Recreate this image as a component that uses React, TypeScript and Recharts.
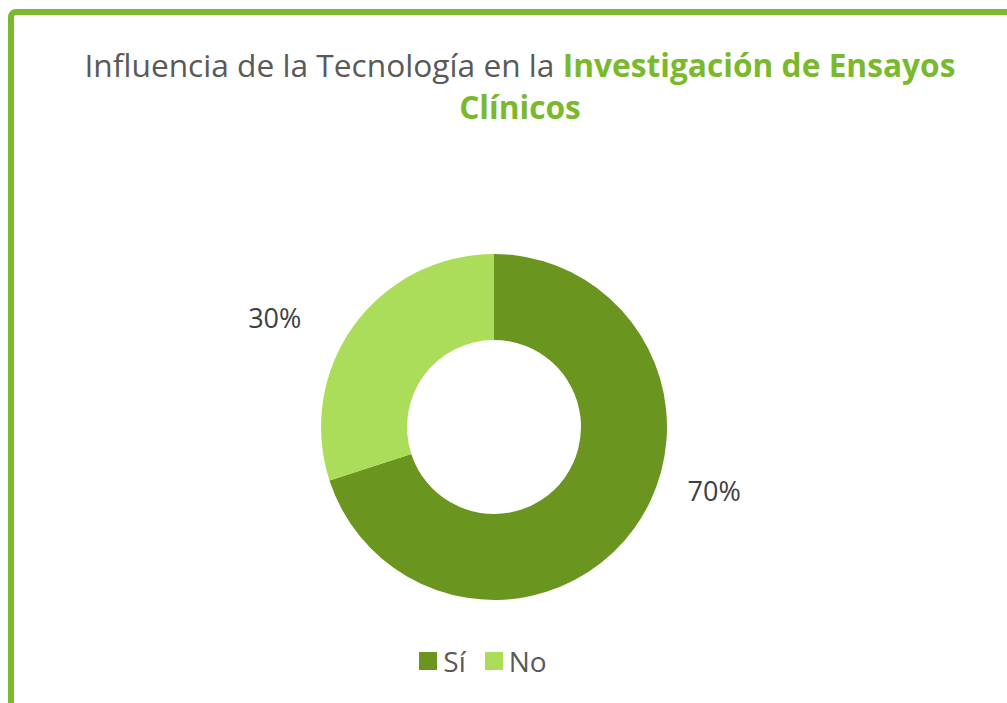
import { Cell, Legend, Pie, PieChart } from "recharts";

const categories = ["Sí", "No"];
const shares = [70, 30];
const sliceColors = ["#6a961f", "#acdd5a"];
// where each percentage sits, as angle (deg) and distance from the centre
const labelAngles = [-16, 153.5];
const labelRadii = [229, 245];

const data = categories.map((name, i) => ({ name, value: shares[i] }));

const FONT = "'Open Sans', sans-serif";

function renderLabel(props: any) {
  const { cx, cy, index, value } = props;
  const a = (labelAngles[index] * Math.PI) / 180;
  const x = cx + labelRadii[index] * Math.cos(a);
  const y = cy - labelRadii[index] * Math.sin(a);
  return (
    <text x={x} y={y} textAnchor="middle" dominantBaseline="central" fill="#404040" fontSize={27} fontFamily={FONT}>
      {value}%
    </text>
  );
}

function LegendContent() {
  return (
    <div style={{ display: "flex", justifyContent: "center", alignItems: "center", gap: 19, fontFamily: FONT, fontSize: 28, color: "#595959" }}>
      {data.map((d, i) => (
        <div key={d.name} style={{ display: "flex", alignItems: "center", gap: 6 }}>
          <span style={{ width: 18, height: 18, background: sliceColors[i], display: "inline-block" }} />
          <span>{d.name}</span>
        </div>
      ))}
    </div>
  );
}

export default function App() {
  return (
    <div style={{ position: "absolute", left: 0, top: 0, width: 1007, height: 703, overflow: "hidden", background: "#fff" }}>
      <div
        style={{
          position: "absolute",
          left: 8,
          top: 9,
          width: 1100,
          height: 800,
          border: "6px solid #7ab92e",
          borderRadius: 8,
          boxSizing: "border-box",
        }}
      />
      <div
        style={{
          position: "absolute",
          left: 20,
          top: 44,
          width: 1000,
          textAlign: "center",
          fontFamily: FONT,
          fontSize: 31.7,
          lineHeight: "42px",
          color: "#595959",
        }}
      >
        Influencia de la Tecnología en la <b style={{ color: "#7ab92e" }}>Investigación de Ensayos</b>
        <br />
        <b style={{ color: "#7ab92e" }}>Clínicos</b>
      </div>
      <div style={{ position: "absolute", left: 0, top: 0 }}>
        <PieChart width={1007} height={703}>
          <Pie
            data={data}
            dataKey="value"
            nameKey="name"
            cx={489}
            cy={422}
            innerRadius={87}
            outerRadius={173}
            startAngle={90}
            endAngle={-270}
            stroke="none"
            label={renderLabel}
            labelLine={false}
            isAnimationActive={false}
          >
            {data.map((d, i) => (
              <Cell key={d.name} fill={sliceColors[i]} />
            ))}
          </Pie>
          <Legend content={<LegendContent />} wrapperStyle={{ top: 642, left: 0, width: 966 }} />
        </PieChart>
      </div>
    </div>
  );
}
